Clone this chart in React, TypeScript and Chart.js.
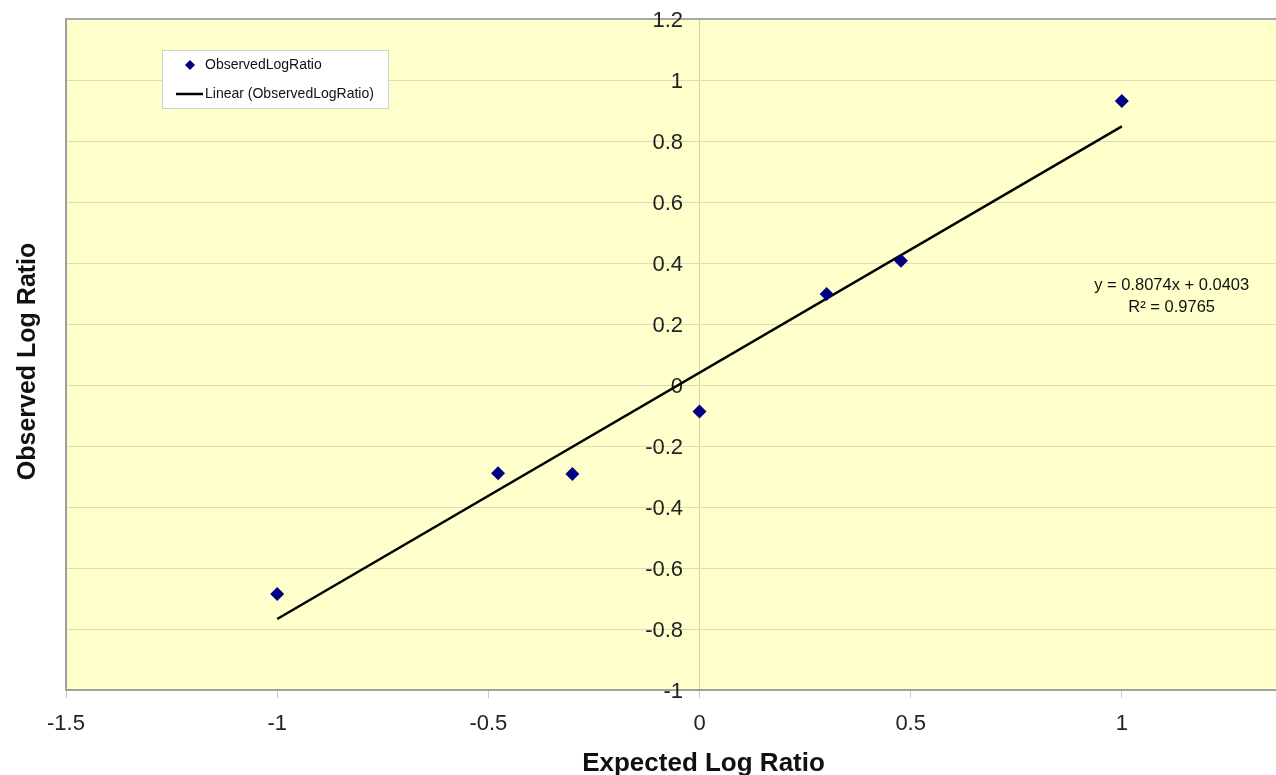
import { useEffect, useRef } from 'react';
import { Chart, registerables } from 'chart.js';

Chart.register(...registerables);

// ---- data ----
const expectedLogRatio = [-1, -0.477, -0.301, 0, 0.301, 0.477, 1];
const observedLogRatio = [-0.685, -0.289, -0.292, -0.087, 0.298, 0.407, 0.931];
const trendX = [-1, 1];
const trendY = [-0.7671, 0.8477];
const xTicks = [-1.5, -1, -0.5, 0, 0.5, 1];
const yTicks = [-1, -0.8, -0.6, -0.4, -0.2, 0, 0.2, 0.4, 0.6, 0.8, 1, 1.2];
const xRange = [-1.5, 1.365];
const yRange = [-1, 1.2];
const yLabelAnchorX = -0.039;
const seriesLabels = ['ObservedLogRatio', 'Linear (ObservedLogRatio)'];
const equationLines = ['y = 0.8074x + 0.0403', 'R\u00B2 = 0.9765'];
const equationAt = [1.118, 0.326];
const axisTitles = ['Expected Log Ratio', 'Observed Log Ratio'];

const FONT = '"Liberation Sans", Arial, sans-serif';

const bgPlugin = {
  id: 'plotBg',
  beforeDraw(chart: any) {
    const { ctx, chartArea: a } = chart;
    ctx.save();
    ctx.fillStyle = '#FFFFCC';
    ctx.fillRect(a.left, a.top, a.right - a.left, a.bottom - a.top);
    ctx.restore();
  },
};

const overlayPlugin = {
  id: 'overlay',
  afterDraw(chart: any) {
    const { ctx } = chart;
    const ds = chart.data.datasets;
    ctx.save();
    // legend box
    const bx = 162, by = 50, bw = 226, bh = 58;
    ctx.fillStyle = '#ffffff';
    ctx.fillRect(bx, by, bw, bh);
    ctx.strokeStyle = '#cfcfcf';
    ctx.lineWidth = 1;
    ctx.strokeRect(bx + 0.5, by + 0.5, bw, bh);
    ctx.font = `14px ${FONT}`;
    ctx.textBaseline = 'middle';
    ctx.textAlign = 'left';
    // item 1: diamond
    const y1 = by + 15;
    const cx = 190, r = 5;
    ctx.fillStyle = ds[0].backgroundColor;
    ctx.beginPath();
    ctx.moveTo(cx, y1 - r);
    ctx.lineTo(cx + r, y1);
    ctx.lineTo(cx, y1 + r);
    ctx.lineTo(cx - r, y1);
    ctx.closePath();
    ctx.fill();
    ctx.fillStyle = '#111';
    ctx.fillText(ds[0].label, 205, y1);
    // item 2: line
    const y2 = by + 44;
    ctx.strokeStyle = ds[1].borderColor;
    ctx.lineWidth = 2.5;
    ctx.beginPath();
    ctx.moveTo(176, y2);
    ctx.lineTo(203, y2);
    ctx.stroke();
    ctx.fillStyle = '#111';
    ctx.fillText(ds[1].label, 205, y2);

    // equation
    const ex = chart.scales.x.getPixelForValue(equationAt[0]);
    const ey = chart.scales.y.getPixelForValue(equationAt[1]);
    ctx.font = `16.5px ${FONT}`;
    ctx.textAlign = 'center';
    ctx.fillStyle = '#111';
    equationLines.forEach((t, i) => ctx.fillText(t, ex, ey + i * 22));
    ctx.restore();
  },
};

export default function App() {
  const ref = useRef<HTMLCanvasElement>(null);
  useEffect(() => {
    document.body.style.margin = '0';
    if (!ref.current) return;
    const chart = new Chart(ref.current, {
      type: 'scatter',
      data: {
        datasets: [
          {
            label: seriesLabels[0],
            data: expectedLogRatio.map((x, i) => ({ x, y: observedLogRatio[i] })),
            backgroundColor: '#000080',
            borderColor: '#000080',
            pointStyle: 'rectRot',
            pointRadius: 7,
            pointBorderWidth: 0,
            order: 1,
          },
          {
            label: seriesLabels[1],
            type: 'line',
            data: trendX.map((x, i) => ({ x, y: trendY[i] })),
            borderColor: '#000000',
            backgroundColor: '#000000',
            borderWidth: 2.5,
            pointRadius: 0,
            showLine: true,
            fill: false,
            order: 2,
          } as any,
        ],
      },
      options: {
        animation: false,
        responsive: false,
        maintainAspectRatio: false,
        layout: { autoPadding: false, padding: { top: 19, right: 0, left: 0, bottom: 0 } },
        plugins: { legend: { display: false }, tooltip: { enabled: false } },
        scales: {
          x: {
            type: 'linear',
            position: 'bottom',
            min: xRange[0],
            max: xRange[1],
            afterBuildTicks: (s: any) => {
              s.ticks = xTicks.map((v) => ({ value: v }));
            },
            afterFit: (s: any) => {
              s.height = 85;
              s.paddingRight = 0;
            },
            grid: {
              color: (c: any) => (c.tick && c.tick.value === 0 ? '#d4d1ad' : 'rgba(0,0,0,0)'),
              tickColor: '#c8c8c8',
              tickLength: 8,
              lineWidth: 1,
            },
            border: { color: '#a0a0a0', width: 2 },
            ticks: {
              font: { family: FONT, size: 22 },
              color: '#222',
              padding: 13,
              maxRotation: 0,
              callback: (v: any) => String(v),
            },
            title: {
              display: true,
              text: '         ' + axisTitles[0],
              font: { family: FONT, size: 26, weight: 'bold' },
              color: '#111',
              padding: { top: 0, bottom: -4 },
            },
          },
          y: {
            type: 'linear',
            position: 'left',
            min: yRange[0],
            max: yRange[1],
            afterBuildTicks: (s: any) => {
              s.ticks = yTicks.map((v) => ({ value: v }));
            },
            afterFit: (s: any) => {
              s.width = 66;
              s.paddingRight = 0;
            },
            grid: {
              color: (c: any) => (c.tick && c.tick.value === 1.2 ? '#a8a8a8' : '#dedbb6'),
              lineWidth: (c: any) => (c.tick && c.tick.value === 1.2 ? 2 : 1),
              drawTicks: false,
            },
            border: { color: '#a0a0a0', width: 2 },
            ticks: { display: false },
            title: {
              display: true,
              text: axisTitles[1] + '  ',
              font: { family: FONT, size: 25, weight: 'bold' },
              color: '#111',
              padding: { top: 13, bottom: 0 },
            },
          },
          y2: {
            type: 'linear',
            axis: 'y',
            position: { x: yLabelAnchorX },
            min: yRange[0],
            max: yRange[1],
            afterBuildTicks: (s: any) => {
              s.ticks = yTicks.map((v) => ({ value: v }));
            },
            afterFit: (s: any) => {
              s.paddingLeft = 0;
              s.paddingRight = 0;
            },
            grid: { display: false, drawTicks: false },
            border: { display: false },
            ticks: {
              font: { family: FONT, size: 22 },
              color: '#222',
              padding: 0,
              labelOffset: 2,
              callback: (v: any) => String(v),
            },
          } as any,
        },
      } as any,
      plugins: [bgPlugin, overlayPlugin],
    });
    return () => chart.destroy();
  }, []);
  return (
    <div style={{ width: 1276, height: 775 }}>
      <canvas ref={ref} width={1276} height={775} style={{ display: 'block' }} />
    </div>
  );
}
